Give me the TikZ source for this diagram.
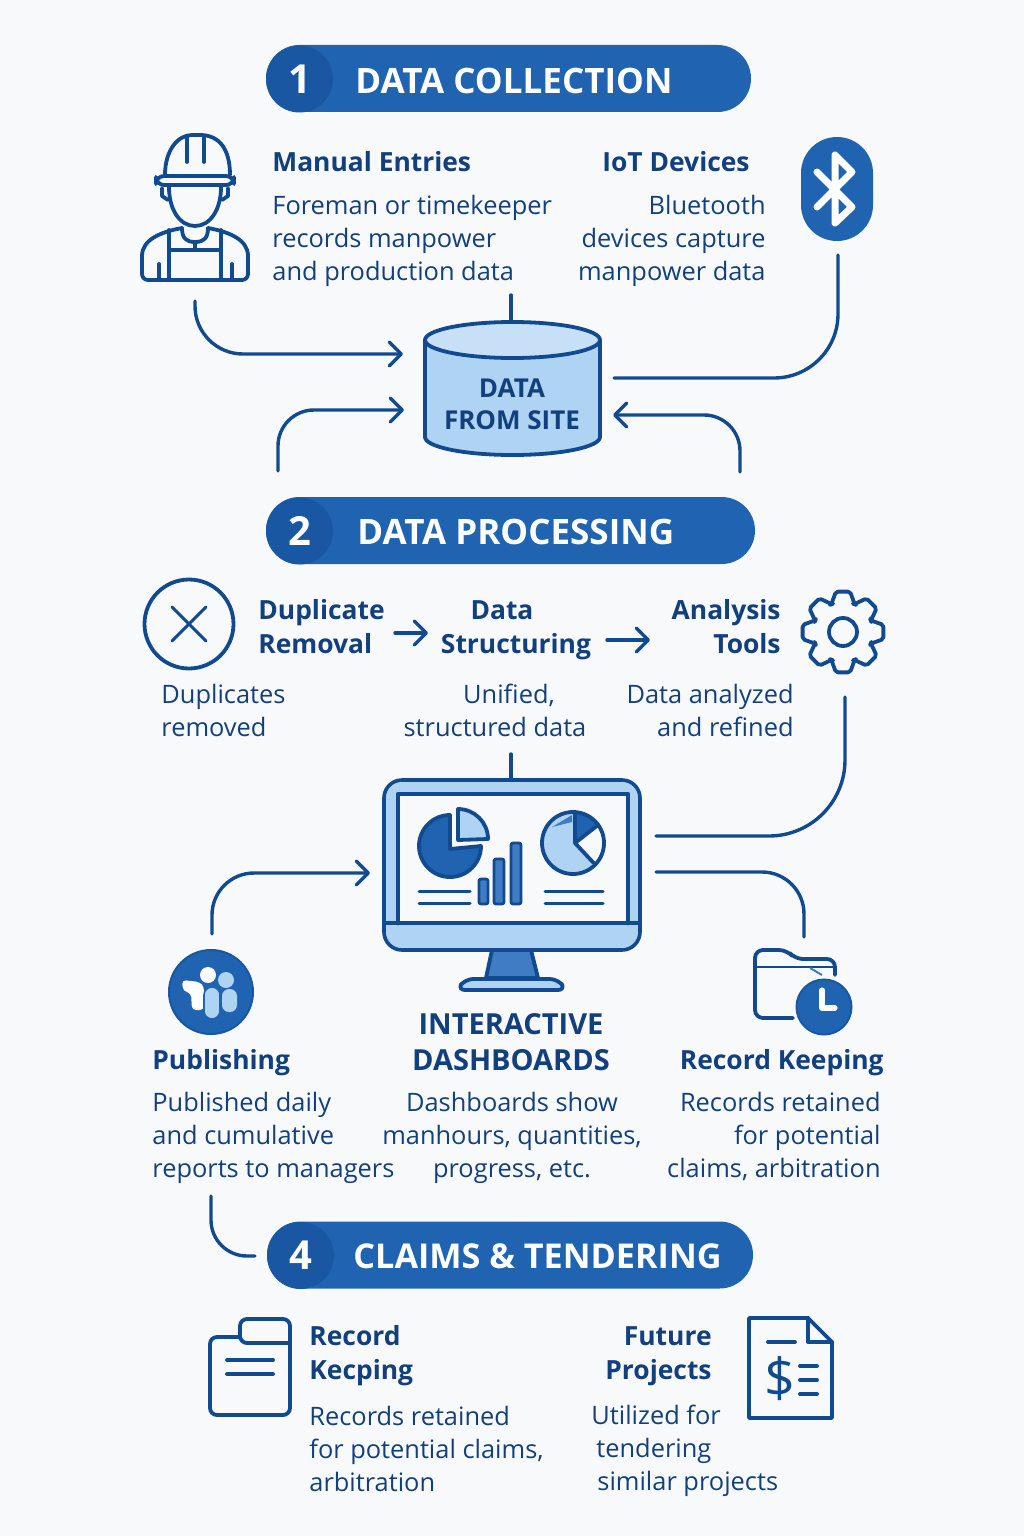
\documentclass[tikz,border=0pt]{standalone}
\usepackage{fontspec}
\setmainfont{Open Sans}
\usetikzlibrary{arrows.meta}
\definecolor{pagebg}{HTML}{F8F9FA}
\definecolor{navy}{HTML}{123F7E}
\definecolor{linecol}{HTML}{124A90}
\definecolor{pillcol}{HTML}{2063B1}
\definecolor{numcol}{HTML}{1957A3}
\definecolor{midblue}{HTML}{3F7CC4}
\definecolor{pale}{HTML}{AFD3F3}
\tikzset{
	bodytext/.style={text=navy,inner sep=0pt,font=\fontsize{12.7}{16.5}\selectfont},
	headtext/.style={text=navy,inner sep=0pt,font=\fontsize{13.2}{17}\selectfont\bfseries},
	pill/.style={fill=pillcol,minimum height=33.5pt,rounded corners=16.7pt,inner sep=0pt},
	numdisc/.style={circle,fill=numcol,minimum size=33.5pt,inner sep=0pt,text=white,font=\fontsize{20}{20}\selectfont\bfseries},
	pilltext/.style={anchor=west,inner sep=0pt,text=white,font=\fontsize{17.5}{20}\selectfont\bfseries},
	flow/.style={draw=linecol,line width=1.7pt,line cap=round},
	icon/.style={draw=linecol,line width=1.9pt,line cap=round,line join=round}
}
\begin{document}
\begin{tikzpicture}[x=0.5pt,y=-0.5pt,>={Straight Barb[length=6pt,width=12pt,line width=1.7pt,round]}]
	\path[use as bounding box,fill=pagebg] (0,0) rectangle (1024,1536);

	\node[pill,minimum width=242.5pt] (collect) at (508.5,78.5) {};
	\node[numdisc] (num1) at (299.5,79) {1};
	\node[pilltext] (collecttxt) at (355,80.5) {DATA COLLECTION};

	\node[pill,minimum width=244.5pt] (process) at (510.5,530.5) {};
	\node[numdisc] (num2) at (299.5,531) {2};
	\node[pilltext] (processtxt) at (357,531.5) {DATA PROCESSING};

	\node[pill,minimum width=243pt] (claims) at (510,1255) {};
	\node[numdisc] (num4) at (300.5,1255.5) {4};
	\node[pilltext,font=\fontsize{17.1}{20}\selectfont\bfseries] (claimstxt) at (353,1256) {CLAIMS \& TENDERING};

	\begin{scope}[icon]
		\draw (165,175) .. controls (165,150) and (178,135) .. (192,135) -- (200,135) .. controls (220,135) and (230,150) .. (230,175);
		\draw (187,138) -- (187,162) (204,138) -- (204,162);
		\draw[rounded corners=4pt] (156,176) rectangle (234,185);
		\draw (169,187) .. controls (169,210) and (180,226) .. (195,226) .. controls (210,226) and (221,210) .. (221,187);
		\draw (162,188) -- (162,196) -- (168,200) (228,188) -- (228,196) -- (222,200);
		\draw[rounded corners=3pt] (182,228) .. controls (160,232) and (142,240) .. (142,262) -- (142,280) -- (248,280) -- (248,262) .. controls (248,240) and (230,232) .. (208,228);
		\draw (182,228) .. controls (182,238) and (186,242) .. (195,242) .. controls (204,242) and (208,238) .. (208,228);
		\draw (195,242) -- (195,250);
		\draw (169,230) -- (169,280) (221,230) -- (221,280) (169,250) -- (221,250);
		\draw (159,264) -- (159,280) (232,264) -- (232,280);
	\end{scope}

	\node[headtext,anchor=west] (manualhead) at (272,162) {Manual Entries};
	\node[bodytext,anchor=west,align=left] (manualbody) at (272,241) {Foreman or timekeeper\\records manpower\\and production data};
	\node[headtext] (iothead) at (676,162) {IoT Devices};
	\node[bodytext,anchor=east,align=right] (iotbody) at (766,241) {Bluetooth\\devices capture\\manpower data};

	\node[fill=pillcol,rounded corners=18pt,minimum width=36pt,minimum height=52pt] (bluetooth) at (837,189) {};
	\draw[white,line width=3.5pt,line cap=round,line join=round] (817,172) -- (852,207) -- (835,223) -- (835,155) -- (852,172) -- (817,207);

	\node[minimum width=87.5pt,minimum height=66.5pt,inner sep=0pt] (site) at (512.5,388.5) {};
	\draw[icon,fill=pale] (425,340) -- (425,437) arc[start angle=180,end angle=0,x radius=87.5,y radius=18] -- (600,340);
	\draw[icon,fill=pale!70!white] (512.5,340) ellipse[x radius=87.5,y radius=18];
	\node[font=\fontsize{13}{16}\selectfont\bfseries,text=navy,align=center,inner sep=0pt] (sitetxt) at (512,404) {DATA\\FROM SITE};

	\coordinate (workerout) at (195,301);
	\coordinate (siteinA) at (403,354);
	\coordinate (leftup) at (278,471);
	\coordinate (siteinB) at (404,410);
	\coordinate (btout) at (838,255);
	\coordinate (siteinC) at (614,378);
	\coordinate (rightup) at (740,472);
	\coordinate (siteinD) at (613,415);
	\coordinate (stubA) at (511,295);
	\draw[flow,->,rounded corners=24pt] (workerout) |- (siteinA);
	\draw[flow,->,rounded corners=18pt] (leftup) |- (siteinB);
	\draw[flow,rounded corners=32pt] (btout) |- (siteinC);
	\draw[flow,->,rounded corners=18pt] (rightup) |- (siteinD);
	\draw[flow] (stubA) -- (stubA |- site.north);

	\node[circle,icon,minimum size=44.5pt,inner sep=0pt] (dupicon) at (189,624) {};
	\draw[icon,line width=1.5pt] (172,607) -- (206,641) (206,607) -- (172,641);

	\node[headtext,anchor=west,align=left] (duphead) at (258,627) {Duplicate\\Removal};
	\node[headtext,align=center] (structhead) at (516,630) {Data\hspace*{14pt}\\Structuring};
	\node[headtext,anchor=east,align=right] (toolhead) at (781,627) {Analysis\\Tools};
	\node[bodytext,anchor=west,align=left] (dupbody) at (161,710) {Duplicates\\removed};
	\node[bodytext,align=center] (structbody) at (495,710) {\hspace*{14pt}Unified,\\structured data};
	\node[bodytext,anchor=east,align=right] (toolbody) at (794,710) {Data analyzed\\and refined};

	\coordinate (arrowAa) at (395,633);
	\coordinate (arrowAb) at (428,633);
	\coordinate (arrowBa) at (607,640);
	\coordinate (arrowBb) at (650,640);
	\draw[flow,->] (arrowAa) -- (arrowAb);
	\draw[flow,->] (arrowBa) -- (arrowBb);

	\draw[icon,rounded corners=1pt] ([shift={(843,632)}]-23:30) \foreach \a in {0,45,...,315} {-- ([shift={(843,632)}]\a-23:30) -- ([shift={(843,632)}]\a-10:41) -- ([shift={(843,632)}]\a+10:41) -- ([shift={(843,632)}]\a+23:30)} -- cycle;
	\node[circle,icon,minimum size=14pt,inner sep=0pt] (gear) at (843,632) {};

	\node[fill=pale,draw=linecol,line width=1.8pt,rounded corners=9pt,minimum width=128pt,minimum height=85pt,inner sep=0pt] (monitor) at (512,865) {};
	\fill[pagebg] (398,794) rectangle (628,923);
	\draw[icon,line width=2.4pt] (398,923) -- (398,794) -- (628,794) -- (628,923);
	\draw[icon] (384,923) -- (640,923);
	\draw[icon,fill=midblue] (492,950) -- (531,950) -- (538,978) -- (486,978) -- cycle;
	\draw[icon,fill=pale,rounded corners=4pt] (457,990) -- (465,979) -- (558,979) -- (566,990) -- cycle;

	\draw[icon,fill=pillcol] (450,849) -- (450,815) arc[start angle=270,end angle=0,radius=31] -- cycle;
	\draw[icon,fill=pale] (458,840) -- (458,809) arc[start angle=270,end angle=360,radius=30] -- cycle;

	\draw[icon,line width=1.4pt,fill=midblue,rounded corners=1pt] (479,879) rectangle (488,904);
	\draw[icon,line width=1.4pt,fill=midblue,rounded corners=1pt] (494,859) rectangle (504,904);
	\draw[icon,line width=1.4pt,fill=midblue,rounded corners=1pt] (511,843) rectangle (521,904);
	\draw[icon,line width=1.5pt] (419,891) -- (470,891) (419,903) -- (470,903) (545,891) -- (603,891) (545,903) -- (603,903);

	\node[circle,fill=pale,minimum size=31pt,inner sep=0pt] (pieB) at (573,843) {};
	\fill[pagebg] (575,843) -- ++(322:31) arc[start angle=322,end angle=407,radius=31] -- cycle;
	\fill[pillcol] (575,843) -- ++(270:31) arc[start angle=270,end angle=322,radius=31] -- cycle;
	\fill[midblue] (552,827) -- (572,815) -- (572,822) -- cycle;
	\node[circle,icon,minimum size=31pt,inner sep=0pt] (pieBring) at (573,843) {};
	\draw[icon] (575,812) -- (575,843) -- ++(47:27) (575,843) -- ++(322:29);

	\coordinate (stubB) at (511,754);
	\coordinate (gearout) at (845,697);
	\coordinate (monoutA) at (656,836);
	\coordinate (pubup) at (212,934);
	\coordinate (moninA) at (370,873);
	\coordinate (monoutB) at (656,872);
	\coordinate (folderup) at (804,937);
	\coordinate (pubdown) at (211,1196);
	\coordinate (claimsin) at (255,1256);
	\draw[flow] (stubB) -- (stubB |- monitor.north);
	\draw[flow,rounded corners=38pt] (gearout) |- (monoutA);
	\draw[flow,->,rounded corners=21pt] (pubup) |- (moninA);
	\draw[flow,rounded corners=21pt] (folderup) |- (monoutB);
	\draw[flow,rounded corners=18pt] (pubdown) |- (claimsin);

	\node[circle,fill=pillcol,draw=numcol,line width=1pt,minimum size=42pt,inner sep=0pt] (pubicon) at (211,992) {};
	\fill[white,rounded corners=2pt] (182,980) -- (200,982) -- (204,987) -- (204,1010) -- (192,1010) -- (191,993) -- (183,991) -- cycle;
	\fill[white] (208,975) circle[radius=8];
	\fill[pale] (226,980) circle[radius=8];
	\fill[pale,rounded corners=3.5pt] (222,989) rectangle (237,1012);
	\draw[pillcol,line width=0.8pt,fill=pale,rounded corners=4pt] (204,987) rectangle (220,1019);

	\draw[icon,rounded corners=4pt] (793,1018) -- (755,1018) -- (755,950) -- (787,950) -- (795,959) -- (835,959) -- (835,975);
	\draw[icon,line width=1.4pt] (756,967) -- (834,967);
	\draw[line width=1pt,draw=midblue] (810,968) -- (822,975);
	\node[circle,fill=pillcol,draw=numcol,line width=1pt,minimum size=27.5pt,inner sep=0pt] (clock) at (824,1007) {};
	\draw[white,line width=2.6pt,line cap=round,line join=round] (822,990) -- (822,1008) -- (835,1008);

	\node[headtext,anchor=west] (pubhead) at (152,1063) {Publishing};
	\node[headtext,align=center,font=\fontsize{14.5}{18}\selectfont\bfseries] (dashhead) at (511,1042) {INTERACTIVE\\DASHBOARDS};
	\node[headtext,anchor=east] (rechead) at (884,1063) {Record Keeping};
	\node[bodytext,anchor=west,align=left] (pubbody) at (152,1138) {Published daily\\and cumulative\\reports to managers};
	\node[bodytext,align=center] (dashbody) at (512,1138) {Dashboards show\\manhours, quantities,\\progress, etc.};
	\node[bodytext,anchor=east,align=right] (recbody) at (881,1136) {Records retained\\for potential\\claims, arbitration};

	\draw[icon,rounded corners=3.5pt] (240,1337) -- (210,1337) -- (210,1415) -- (290,1415) -- (290,1319) -- (240,1319) -- (240,1343) -- (290,1343);
	\draw[icon] (227,1360) -- (273,1360) (227,1374) -- (273,1374);

	\draw[icon] (749,1320) -- (749,1418) -- (832,1418) -- (832,1342) -- (808,1318) -- (749,1318) -- cycle;
	\draw[icon] (808,1318) -- (808,1342) -- (832,1342);
	\draw[icon] (768,1342) -- (795,1342) (800,1366) -- (817,1366) (800,1380) -- (817,1380) (800,1394) -- (817,1394);
	\node[text=linecol,inner sep=0pt,font=\fontsize{27}{27}\selectfont] (dollar) at (780,1379) {\$};

	\node[headtext,anchor=west,align=left] (rkhead) at (309,1356) {Record\\Kecping};
	\node[bodytext,anchor=west,align=left] (rkbody) at (309,1449) {Records retained\\for potential claims,\\arbitration};
	\node[headtext,anchor=east,align=right] (futhead) at (712,1356) {Future\\Projects};
	\node[bodytext,anchor=west,align=left] (futbody) at (591,1451) {Utilized for\\\hspace*{2.5pt}tendering\\\hspace*{3pt}similar projects};
\end{tikzpicture}
\end{document}
